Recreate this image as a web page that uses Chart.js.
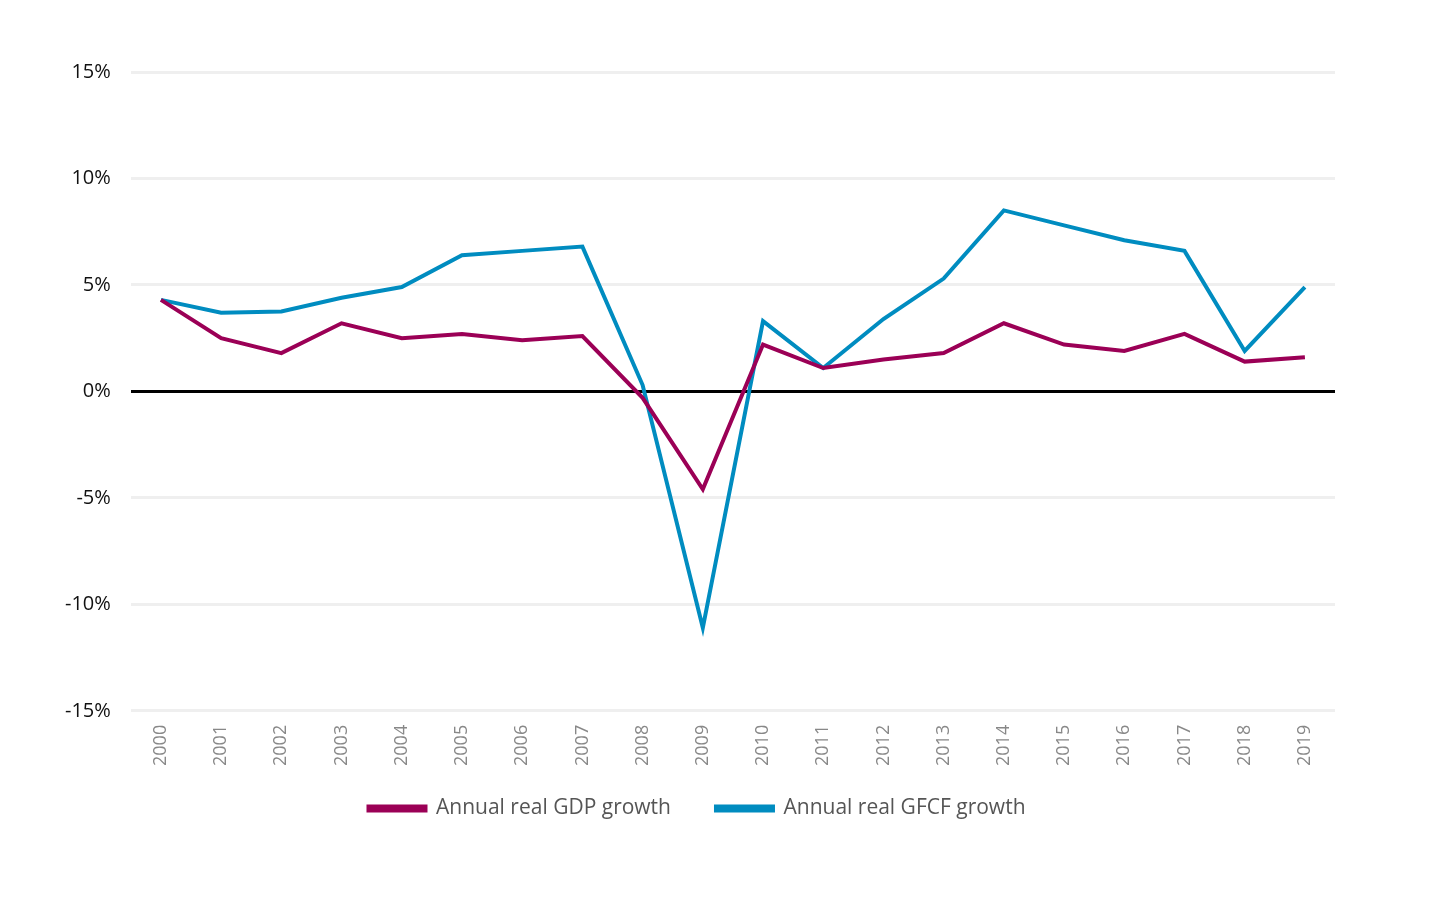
<!DOCTYPE html>
<html>
<head>
<meta charset="utf-8">
<script src="https://cdn.jsdelivr.net/npm/chart.js@4/dist/chart.umd.min.js"></script>
<style>
html,body{margin:0;padding:0;background:#fff;}
#wrap{width:1429px;height:913px;position:relative;}
</style>
</head>
<body>
<div id="wrap"><canvas id="c" width="1429" height="913"></canvas></div>
<script>
const years = ["2000","2001","2002","2003","2004","2005","2006","2007","2008","2009","2010","2011","2012","2013","2014","2015","2016","2017","2018","2019"];
const gdpGrowth = [4.3,2.5,1.8,3.2,2.5,2.7,2.4,2.6,-0.3,-4.6,2.2,1.1,1.5,1.8,3.2,2.2,1.9,2.7,1.4,1.6];
const gfcfGrowth = [4.3,3.7,3.75,4.4,4.9,6.4,6.6,6.8,0.3,-11.1,3.3,1.1,3.4,5.3,8.5,7.8,7.1,6.6,1.9,4.9];
const seriesNames = ["Annual real GDP growth","Annual real GFCF growth"];
const yTicks = [-15,-10,-5,0,5,10,15];

const FONT = "'Open Sans', 'DejaVu Sans', sans-serif";
const legendShift = {
  id: 'legendShift',
  afterLayout(chart) {
    const lg = chart.legend;
    if (!lg) return;
    lg.top -= 27; lg.bottom -= 27;
    lg.left += 7; lg.right += 7;
  }
};
new Chart(document.getElementById('c'), {
  type: 'line',
  data: {
    labels: years,
    datasets: [
      {label: seriesNames[0], data: gdpGrowth, borderColor: '#9B0056', backgroundColor: '#9B0056', borderWidth: 4, pointRadius: 0, tension: 0, fill: false},
      {label: seriesNames[1], data: gfcfGrowth, borderColor: '#008CC0', backgroundColor: '#008CC0', borderWidth: 4, pointRadius: 0, tension: 0, fill: false}
    ]
  },
  plugins: [legendShift],
  options: {
    responsive: false,
    animation: false,
    devicePixelRatio: 1,
    layout: {padding: {left: 45, right: 94, top: 72, bottom: 57}},
    plugins: {
      tooltip: {enabled: false},
      legend: {
        position: 'bottom',
        labels: {
          boxWidth: 57, boxHeight: 4, padding: 45,
          color: '#555', font: {family: FONT, size: 21}
        }
      }
    },
    scales: {
      x: {
        offset: true,
        grid: {display: false, drawTicks: false},
        border: {display: false},
        ticks: {minRotation: 90, maxRotation: 90, color: '#888', font: {family: FONT, size: 18}, padding: 14}
      },
      y: {
        min: -15, max: 15,
        afterBuildTicks: (axis) => { axis.ticks = yTicks.map(v => ({value: v})); },
        border: {display: false},
        grid: {
          drawTicks: false,
          color: (ctx) => ctx.tick && ctx.tick.value === 0 ? '#000' : '#EFEFEF',
          lineWidth: (ctx) => 3
        },
        ticks: {
          padding: 20, color: '#111', font: {family: FONT, size: 20},
          callback: (v) => v + '%'
        }
      }
    }
  }
});
</script>
</body>
</html>
